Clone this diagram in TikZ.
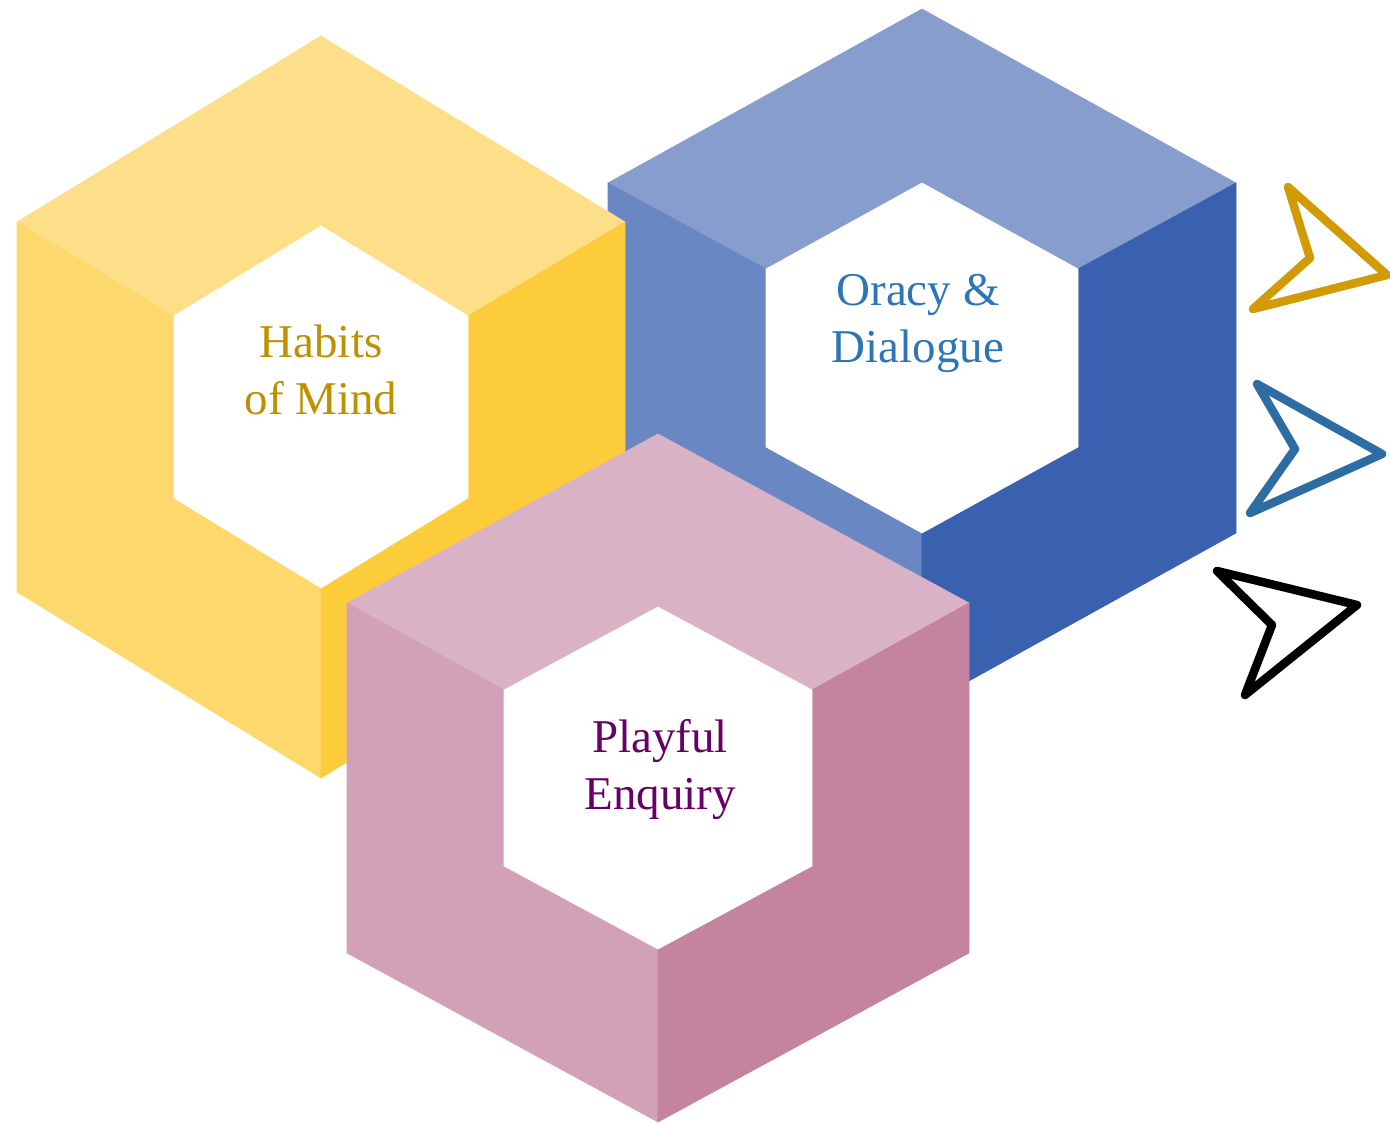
\documentclass[tikz,border=0pt]{standalone}
\usepackage{fontspec}
\setmainfont{Liberation Serif}
\definecolor{ytop}{HTML}{FDDF8A}
\definecolor{yleft}{HTML}{FDD86C}
\definecolor{yright}{HTML}{FDCC3B}
\definecolor{btop}{HTML}{869DCD}
\definecolor{bleft}{HTML}{6887C3}
\definecolor{bright}{HTML}{3A61AF}
\definecolor{ptop}{HTML}{DAB2C5}
\definecolor{pleft}{HTML}{D3A1B7}
\definecolor{pright}{HTML}{C4839F}
\definecolor{habitsc}{HTML}{BF9000}
\definecolor{oracyc}{HTML}{2E75B6}
\definecolor{playc}{HTML}{660066}
\definecolor{goldarrow}{HTML}{D29A05}
\definecolor{bluearrow}{HTML}{2E6CA4}
\newcommand\isocube[9]{%
  \coordinate (#1T)  at ({#2},{#3-#5});
  \coordinate (#1UR) at ({#2+#4},{#3-#6});
  \coordinate (#1LR) at ({#2+#4},{#3+#6});
  \coordinate (#1B)  at ({#2},{#3+#5});
  \coordinate (#1LL) at ({#2-#4},{#3+#6});
  \coordinate (#1UL) at ({#2-#4},{#3-#6});
  \coordinate (#1iT)  at ({#2},{#3-#8});
  \coordinate (#1iUR) at ({#2+#7},{#3-#9});
  \coordinate (#1iLR) at ({#2+#7},{#3+#9});
  \coordinate (#1iB)  at ({#2},{#3+#8});
  \coordinate (#1iLL) at ({#2-#7},{#3+#9});
  \coordinate (#1iUL) at ({#2-#7},{#3-#9});
  \fill[face=#1top] (#1UL) -- (#1T) -- (#1UR) -- (#1iUR) -- (#1iT) -- (#1iUL) -- cycle;
  \fill[face=#1left] (#1UL) -- (#1iUL) -- (#1iLL) -- (#1iB) -- (#1B) -- (#1LL) -- cycle;
  \fill[face=#1right] (#1UR) -- (#1LR) -- (#1B) -- (#1iB) -- (#1iLR) -- (#1iUR) -- cycle;
  \fill[face=white] (#1iT) -- (#1iUR) -- (#1iLR) -- (#1iB) -- (#1iLL) -- (#1iUL) -- cycle;
}
\begin{document}
\begin{tikzpicture}[x=1pt,y=-1pt,
  face/.style={fill=#1,draw=#1,line width=0.6pt,line join=round},
  lbl/.style={font=\fontsize{47}{57}\selectfont,align=center,inner sep=0pt},
  icon/.style={line width=8.5pt,line join=round,line cap=round}]
\useasboundingbox (0,0) rectangle (1390,1123);
% blue cube (back)
\isocube{b}{922}{358}{314}{349}{175}{156}{175}{89}
% yellow cube
\isocube{y}{321}{407}{304}{371}{185}{147}{181}{91}
% pink cube (front)
\isocube{p}{658}{778}{311}{344}{175}{154}{171}{88}
% labels
\node[lbl,text=habitsc] (habits) at (321,370) {Habits\\of Mind};
\node[lbl,text=oracyc] (oracy) at (918,323) {Oracy \&\\Dialogue};
\node[lbl,text=playc] (playful) at (660,770) {Playful\\Enquiry};
% arrow icons
\draw[icon,draw=goldarrow] (1288,187) -- (1387,275) -- (1253,309) -- (1310,258) -- cycle;
\draw[icon,draw=bluearrow] (1257,384) -- (1382,454) -- (1250,513) -- (1295,449) -- cycle;
\draw[icon,draw=black] (1217,571) -- (1357,605) -- (1245,695) -- (1272,625) -- cycle;
\end{tikzpicture}
\end{document}
